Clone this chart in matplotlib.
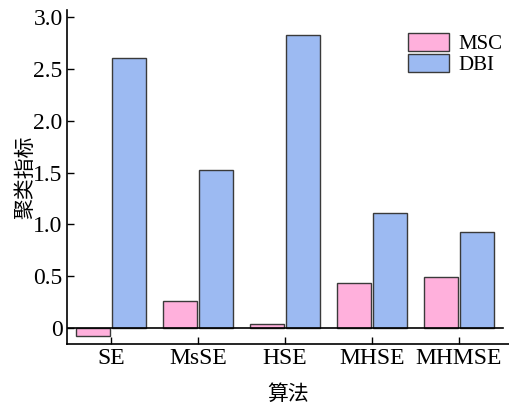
import matplotlib.pyplot as plt
import numpy as np

# 数据：各算法的聚类指标
algorithms = ["SE", "MsSE", "HSE", "MHSE", "MHMSE"]
msc = [-0.08, 0.26, 0.04, 0.43, 0.49]
dbi = [2.61, 1.53, 2.83, 1.11, 0.93]
y_ticks = [0, 0.5, 1.0, 1.5, 2.0, 2.5, 3.0]
y_labels = ["0", "0.5", "1.0", "1.5", "2.0", "2.5", "3.0"]

plt.rcParams['font.family'] = ['Liberation Serif', 'Noto Sans CJK SC']
plt.rcParams['axes.linewidth'] = 1.2

fig = plt.figure(figsize=(5.1, 4.05), dpi=100)
ax = fig.add_axes([0.131, 0.151, 0.869, 0.824])

x = np.arange(len(algorithms))
w = 0.39
ax.bar(x - 0.207, msc, w, color="#ffb0dc", edgecolor="#3a3a3a", linewidth=1.0, label="MSC")
ax.bar(x + 0.207, dbi, w, color="#9cbaf2", edgecolor="#3a3a3a", linewidth=1.0, label="DBI")

ax.set_xlim(-0.506, 4.59)
ax.set_ylim(-0.154, 3.07)
# 零线
ax.axhline(0, xmin=0, xmax=0.984, color="black", linewidth=1.2)

ax.spines['top'].set_visible(False)
ax.spines['right'].set_visible(False)

ax.set_xticks(x)
ax.set_xticklabels(algorithms, fontsize=17)
ax.set_yticks(y_ticks)
ax.set_yticklabels(y_labels, fontsize=17)
ax.tick_params(direction="in", length=5, width=1.0, pad=3)

ax.set_xlabel("算法", fontsize=15, family=['Noto Sans CJK SC'], labelpad=10)
ax.set_ylabel("聚类指标", fontsize=15, family=['Noto Sans CJK SC'], labelpad=-2)

ax.legend(loc="upper left", bbox_to_anchor=(0.75, 0.955), frameon=False, fontsize=15,
          handlelength=2.0, handleheight=0.9, labelspacing=0.0, handletextpad=0.45,
          borderaxespad=0)

plt.savefig("out.png", dpi=100)
